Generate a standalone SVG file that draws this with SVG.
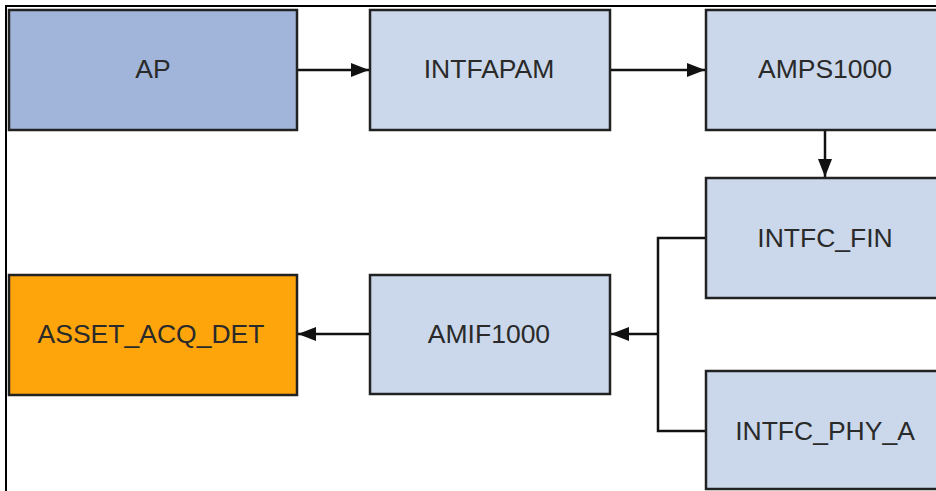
<svg xmlns="http://www.w3.org/2000/svg" width="936" height="491" viewBox="0 0 936 491">
  <style>
    .box { stroke: #222; stroke-width: 2.5; }
    .blue { fill: #A1B5DB; }
    .light { fill: #CBD8EB; }
    .orange { fill: #FFA50C; }
    .lbl { font-family: "Liberation Sans", Arial, sans-serif; font-size: 26.5px; fill: #2a2a2a; text-anchor: middle; }
    .conn { stroke: #111; stroke-width: 2.5; fill: none; }
    .frame { stroke: #000; stroke-width: 2; fill: none; }
  </style>
  <defs>
    <marker id="arr" viewBox="0 0 18 14" refX="18" refY="7" markerWidth="18" markerHeight="14" markerUnits="userSpaceOnUse" orient="auto">
      <path d="M0,0 L18,7 L0,14 z" fill="#111"/>
    </marker>
  </defs>
  <rect x="0" y="0" width="936" height="491" fill="#fff"/>
  <path class="frame" d="M6,491 L6,6 L936,6"/>

  <g id="connectors">
    <line class="conn" x1="298" y1="70" x2="369" y2="70" marker-end="url(#arr)"/>
    <line class="conn" x1="610" y1="70" x2="705" y2="70" marker-end="url(#arr)"/>
    <line class="conn" x1="825" y1="130" x2="825" y2="177" marker-end="url(#arr)"/>
    <path class="conn" d="M706,238 L658,238 L658,431 L706,431"/>
    <line class="conn" x1="658" y1="334" x2="611" y2="334" marker-end="url(#arr)"/>
    <line class="conn" x1="370" y1="334" x2="298" y2="334" marker-end="url(#arr)"/>
  </g>

  <g id="AP">
    <rect class="box blue" x="9" y="10" width="288" height="120"/>
    <text class="lbl" x="153" y="78">AP</text>
  </g>
  <g id="INTFAPAM">
    <rect class="box light" x="370" y="10" width="240" height="120"/>
    <text class="lbl" x="489" y="78">INTFAPAM</text>
  </g>
  <g id="AMPS1000">
    <rect class="box light" x="706" y="10" width="240" height="120"/>
    <text class="lbl" x="825" y="78">AMPS1000</text>
  </g>
  <g id="INTFC_FIN">
    <rect class="box light" x="706" y="178" width="240" height="120"/>
    <text class="lbl" x="825" y="247">INTFC_FIN</text>
  </g>
  <g id="INTFC_PHY_A">
    <rect class="box light" x="706" y="371" width="240" height="118"/>
    <text class="lbl" x="825" y="440">INTFC_PHY_A</text>
  </g>
  <g id="AMIF1000">
    <rect class="box light" x="370" y="275" width="240" height="119"/>
    <text class="lbl" x="489" y="343">AMIF1000</text>
  </g>
  <g id="ASSET_ACQ_DET">
    <rect class="box orange" x="9" y="275" width="288" height="120"/>
    <text class="lbl" x="151" y="343">ASSET_ACQ_DET</text>
  </g>
</svg>
